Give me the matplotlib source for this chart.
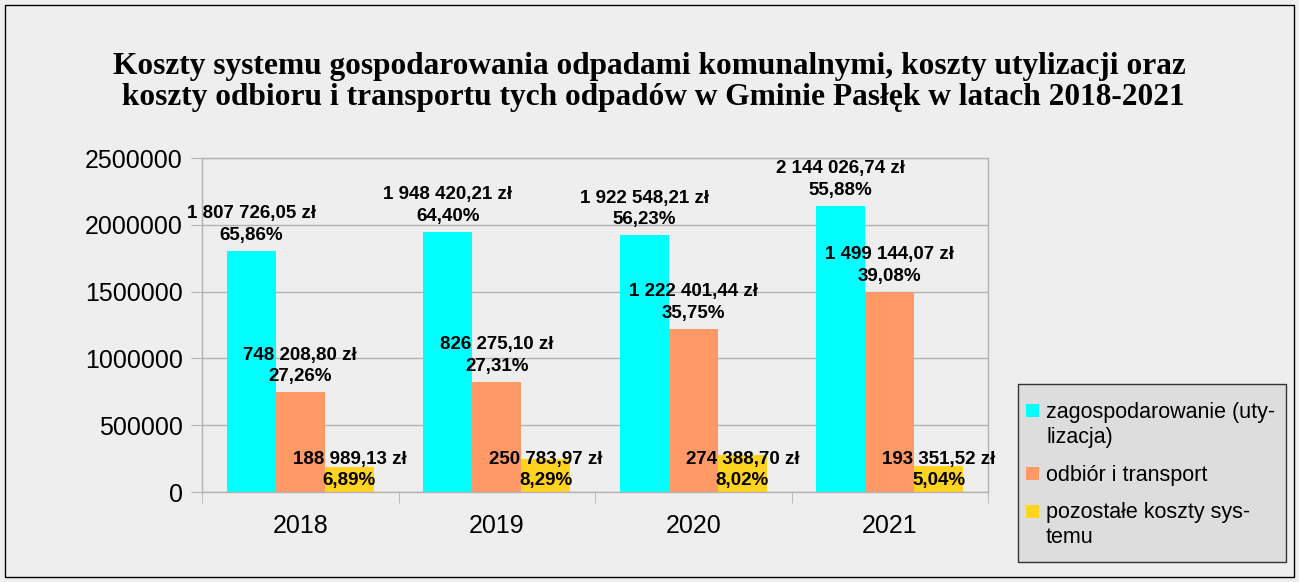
import numpy as np
import matplotlib
matplotlib.use("Agg")
import matplotlib.pyplot as plt
from matplotlib.patches import Rectangle

plt.rcParams['font.family'] = ['Liberation Sans', 'DejaVu Sans']

years = ['2018', '2019', '2020', '2021']
series_names = ['zagospodarowanie (uty-\nlizacja)', 'odbiór i transport', 'pozostałe koszty sys-\ntemu']
utylizacja = [1807726.05, 1948420.21, 1922548.21, 2144026.74]
transport = [748208.80, 826275.10, 1222401.44, 1499144.07]
pozostale = [188989.13, 250783.97, 274388.70, 193351.52]
colors = ['#00ffff', '#ff9966', '#ffd320']

BG = '#eeeeee'


def fmt_zl(v):
    s = f"{v:,.2f}".replace(",", " ").replace(".", ",")
    return s + " zł"


def fmt_pct(p):
    return f"{p * 100:.2f}".replace(".", ",") + "%"


fig = plt.figure(figsize=(12.99, 5.82), dpi=100, facecolor=BG)
ax = fig.add_axes([0.1555, 0.1546, 0.6051, 0.5739])
ax.set_facecolor(BG)

data = np.array([utylizacja, transport, pozostale])
totals = data.sum(axis=0)
x = np.arange(len(years))
w = 0.25

for i, vals in enumerate(data):
    xs = x + (i - 1) * w
    ax.bar(xs, vals, width=w, color=colors[i], zorder=2)
    for xx, v, t in zip(xs, vals, totals):
        label = fmt_zl(v) + "\n" + fmt_pct(v / t)
        if i == 2:
            # small bars: label sits near the axis
            ax.annotate(label, (xx, 0), xytext=(0, 2), textcoords='offset points',
                        ha='center', va='bottom', fontsize=13.5, fontweight='bold',
                        linespacing=1.33, zorder=3)
        else:
            ax.annotate(label, (xx, v), xytext=(0, 5), textcoords='offset points',
                        ha='center', va='bottom', fontsize=13.5, fontweight='bold',
                        linespacing=1.33, zorder=3)

ax.set_ylim(0, 2500000)
ax.set_xlim(-0.5, len(years) - 0.5)
ax.set_yticks(np.arange(0, 2500001, 500000))
ax.set_yticklabels([str(v) for v in range(0, 2500001, 500000)])
ax.yaxis.grid(True, color='#b3b3b3', lw=1, zorder=0)
ax.set_xticks(x)
ax.set_xticklabels(years)
ax.set_xticks(np.arange(-0.5, len(years)), minor=True)
ax.tick_params(axis='x', which='major', length=0, pad=16, labelsize=18)
ax.tick_params(axis='x', which='minor', length=8, color='#b3b3b3', direction='out')
ax.tick_params(axis='y', length=8, color='#b3b3b3', pad=6, labelsize=18)
for s in ax.spines.values():
    s.set_color('#b3b3b3')
    s.set_linewidth(1)

fig.text(0.5, 0.859,
         "Koszty systemu gospodarowania odpadami komunalnymi, koszty utylizacji oraz\n"
         " koszty odbioru i transportu tych odpadów w Gminie Pasłęk w latach 2018-2021",
         ha='center', va='center', fontsize=22.6, fontweight='bold',
         family='Liberation Serif', linespacing=1.13)

# legend box (pixel coords converted to figure fraction)
W, H = 1299, 582


def fx(px):
    return px / W


def fy(py):
    return 1 - py / H


fig.patches.append(Rectangle((fx(1018), fy(562)), fx(1286) - fx(1018), fy(384) - fy(562),
                             transform=fig.transFigure, facecolor='#dddddd',
                             edgecolor='#333333', lw=1))
leg_top = [402, 465, 502]
sq_top = [404, 467, 505]
for name, c, ty, sy in zip(series_names, colors, leg_top, sq_top):
    fig.patches.append(Rectangle((fx(1026), fy(sy + 13)), fx(13), 13 / H,
                                 transform=fig.transFigure, facecolor=c, edgecolor='none'))
    fig.text(fx(1046), fy(ty), name, ha='left', va='top', fontsize=15.5,
             linespacing=1.25, transform=fig.transFigure)

# outer frame
fig.patches.append(Rectangle((fx(5), fy(577)), fx(1289), 572 / H, transform=fig.transFigure,
                             facecolor='none', edgecolor='#000000', lw=1))

fig.savefig('out.png', dpi=100, facecolor=BG)
